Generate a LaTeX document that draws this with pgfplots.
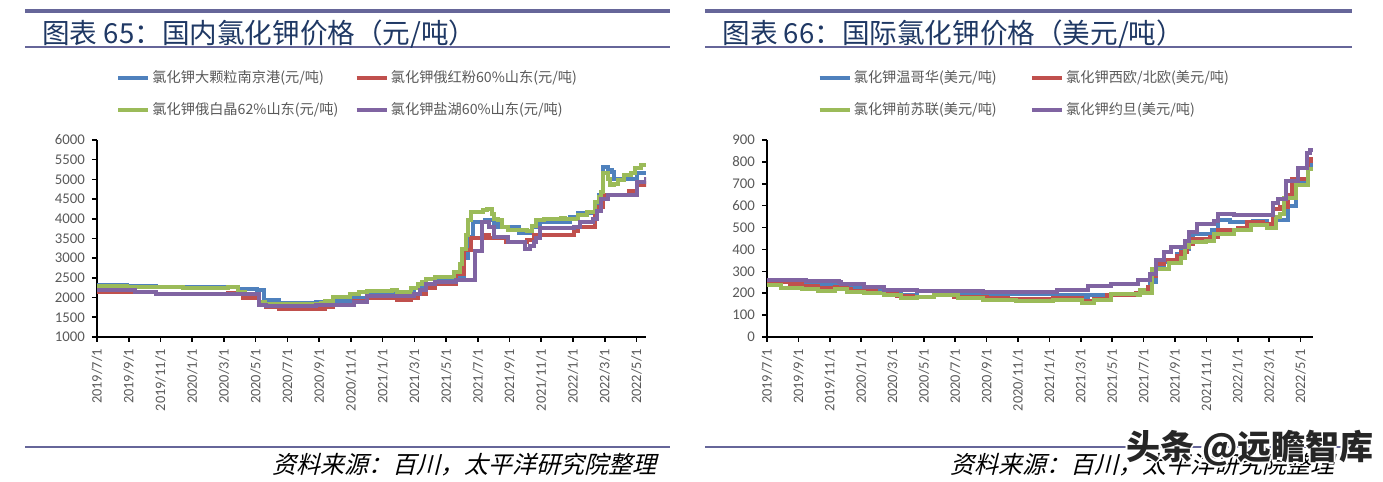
\documentclass[border=0pt]{standalone}
\usepackage{fontspec}
\setmainfont{Carlito}
\newfontfamily\cjk{Noto Sans CJK SC}
\newfontfamily\cjkit{Noto Sans CJK SC}[FakeSlant=0.25]
\usepackage{pgfplots}
\pgfplotsset{compat=1.18}

\definecolor{s1}{RGB}{79,129,189}
\definecolor{s2}{RGB}{192,80,77}
\definecolor{s3}{RGB}{155,187,89}
\definecolor{s4}{RGB}{128,100,162}
\definecolor{barc}{RGB}{102,102,153}
\definecolor{ttl}{RGB}{31,56,100}
\definecolor{tk}{RGB}{89,89,89}

\pgfplotsset{
  potash/.style={
    scale only axis, height=98.5pt,
    xmin=0,
    axis x line=bottom, axis y line=left,
    axis line style={-, line width=1pt},
    tick align=outside, major tick length=2.5pt,
    tick style={black, line width=0.8pt},
    xtick={0,2,...,34},
    xticklabels={2019/7/1,2019/9/1,2019/11/1,2020/1/1,2020/3/1,2020/5/1,2020/7/1,2020/9/1,2020/11/1,2021/1/1,2021/3/1,2021/5/1,2021/7/1,2021/9/1,2021/11/1,2022/1/1,2022/3/1,2022/5/1},
    x tick label style={rotate=90, anchor=east, font=\fontsize{7.2}{8}\selectfont, text=tk},
    y tick label style={font=\fontsize{7.4}{8}\selectfont, text=tk},
    /pgf/number format/assume math mode=true,
    /pgf/number format/set thousands separator={},
    legend columns=2, legend cell align=left,
    legend style={draw=none, fill=none, font=\cjk\fontsize{7.1}{8.5}\selectfont, text=tk,
      row sep=6.5pt, inner sep=0pt, nodes={inner sep=1pt}},
    legend image code/.code={\draw[#1, line width=2.2pt] (0pt,0pt) -- (15pt,0pt);},
    every axis plot/.append style={const plot, no marks, line width=2pt},
  }
}

\begin{document}
\begin{tikzpicture}
\useasboundingbox (0,0) rectangle (691.5pt,241pt);

% frames and titles
\fill[barc] (12.5pt,234.5pt) rectangle (335pt,236.3pt);
\fill[barc] (352.5pt,234.5pt) rectangle (676pt,236.3pt);
\draw[barc, line width=1pt] (12.5pt,217.5pt) -- (335pt,217.5pt);
\draw[barc, line width=1pt] (352.5pt,217.5pt) -- (676pt,217.5pt);
\draw[barc, line width=1pt] (12.5pt,17.5pt) -- (335pt,17.5pt);
\draw[barc, line width=1pt] (352.5pt,17.5pt) -- (676pt,17.5pt);
\node[anchor=west, inner sep=0pt, text=ttl, font=\cjk\fontsize{13.8}{15}\selectfont] at (21pt,224pt) {图表 65：国内氯化钾价格（元/吨）};
\node[anchor=west, inner sep=0pt, text=ttl, font=\cjk\fontsize{13.8}{15}\selectfont] at (361pt,224pt) {图表 66：国际氯化钾价格（美元/吨）};
\node[anchor=east, inner sep=0pt, font=\cjkit\fontsize{12}{13}\selectfont] at (328.5pt,8.5pt) {资料来源：百川，太平洋研究院整理};
\node[anchor=east, inner sep=0pt, font=\cjkit\fontsize{12}{13}\selectfont] at (667.5pt,8.5pt) {资料来源：百川，太平洋研究院整理};

% left chart
\begin{axis}[potash, name=left, at={(48.5pt,72.5pt)}, anchor=south west,
  width=274.5pt, xmax=34.6,
  ymin=1000, ymax=6000, ytick={1000,1500,...,6000},
  legend style={at={(axis description cs:0.034,1.365)}, anchor=north west,
    /tikz/every even column/.append style={column sep=7pt}}]
\addplot[s1] table {
0 2320
1.86 2290
3.72 2260
8.24 2260
8.91 2210
10.11 2200
10.51 1930
11.44 1870
13.83 1900
14.89 1920
15.96 2000
17.02 2060
17.82 2100
19.68 2100
19.95 2250
20.48 2340
21.28 2410
22.61 2500
23.14 3000
23.40 3530
23.67 3920
24.47 3960
25.00 3900
25.27 3800
26.33 3780
26.60 3640
27.26 3640
27.39 3800
27.93 3920
29.79 4040
30.32 4150
31.38 4400
31.65 4600
31.86 5320
32.18 5230
32.45 5200
32.58 5020
32.71 5000
33.78 5000
34.04 5150
34.6 5150
};
\addlegendentry{氯化钾大颗粒南京港(元/吨)}
\addplot[s2] table {
0 2150
3.72 2100
8.24 2120
9.18 2000
10.24 1830
10.64 1750
11.44 1710
14.36 1750
14.89 1810
16.22 1920
17.02 2000
18.88 1950
19.81 2000
20.21 2100
20.74 2250
21.28 2350
22.61 2600
23.14 3200
23.54 3500
24.47 3580
24.73 3510
25.80 3420
27.13 3450
27.53 3600
29.52 3600
30.05 3700
30.32 3800
31.38 4200
31.65 4300
31.91 4600
33.51 4700
34.04 4850
34.57 4900
34.6 4900
};
\addlegendentry{氯化钾俄红粉60\%山东(元/吨)}
\addplot[s3] table {
0 2300
1.86 2270
5.45 2250
8.24 2270
8.90 2150
9.30 2100
10.24 1880
10.60 1850
14.10 1870
14.36 1920
14.89 2020
15.96 2100
16.50 2140
17.02 2170
18.62 2190
18.88 2150
19.81 2250
20.20 2350
20.48 2400
20.74 2470
21.28 2530
22.47 2640
22.87 2850
23.01 3240
23.27 3580
23.40 3960
23.54 4170
24.34 4230
24.60 4250
24.87 4130
25.00 4000
25.27 3980
25.53 3790
25.93 3720
27.13 3700
27.39 3810
27.66 3960
28.19 4000
29.26 4020
29.52 3990
30.32 4100
30.85 4170
31.38 4430
31.65 4550
31.78 4680
31.91 5150
32.18 5020
32.31 4850
32.58 4890
32.85 4980
33.24 5100
33.64 5150
33.91 5280
34.31 5360
34.6 5360
};
\addlegendentry{氯化钾俄白晶62\%山东(元/吨)}
\addplot[s4] table {
0 2200
2.39 2150
3.72 2100
5.32 2080
10.24 1800
10.64 1780
13.83 1800
16.22 1900
17.02 2050
19.95 2100
20.35 2200
20.74 2350
21.28 2390
22.61 2450
23.80 3190
24.26 3920
24.73 3800
25.00 3530
25.93 3410
26.99 3240
27.26 3300
27.53 3400
27.66 3500
27.93 3760
30.05 3800
30.45 3910
31.25 4000
31.52 4200
31.78 4500
32.18 4600
34.04 4930
34.57 5000
34.6 5000
};
\addlegendentry{氯化钾盐湖60\%山东(元/吨)}
\end{axis}

% right chart
\begin{axis}[potash, name=right, at={(383.5pt,72.5pt)}, anchor=south west,
  width=273pt, xmax=34.8,
  ymin=0, ymax=900, ytick={0,100,...,900},
  legend style={at={(axis description cs:0.0916,1.365)}, anchor=north west,
    /tikz/every even column/.append style={column sep=15.5pt}}]
\addplot[s1] table {
0 252
1.44 243
4.86 222
6.96 210
8.53 192
9.58 182
10.63 192
12.2 197
15.62 195
18.24 191
20.21 180
20.47 191
21.92 192
23.49 200
24.41 250
24.8 320
25.33 342
26.12 380
26.38 400
26.9 449
27.17 472
28.35 490
28.74 533
29.53 525
30.97 530
31.89 505
32.41 533
33.2 600
33.73 710
34.5 786
34.8 786
};
\addlegendentry{氯化钾温哥华(美元/吨)}
\addplot[s2] table {
0 250
1.44 240
2.23 232
3.28 222
4.33 230
5.12 220
5.38 208
6.96 200
8.27 188
9.32 184
10.63 190
11.94 185
14.04 180
15.35 175
18.24 180
20.08 165
20.87 175
21.65 193
23.49 200
24.28 230
24.54 280
24.8 334
25.33 352
26.12 372
26.38 390
26.77 426
27.17 446
28.22 455
28.74 487
30.05 500
30.58 525
31.63 515
32.28 587
32.68 592
33.2 650
33.46 724
34.5 812
34.65 805
34.8 805
};
\addlegendentry{氯化钾西欧/北欧(美元/吨)}
\addplot[s3] table {
0 237
0.92 226
2.23 221
3.28 211
4.33 220
5.12 205
6.17 200
7.48 190
8.53 180
9.58 185
10.63 190
12.2 180
13.78 170
15.88 163
18.24 170
20.08 155
20.87 170
21.92 195
23.62 190
23.75 215
24.02 200
24.54 311
25.59 340
26.38 360
26.64 410
26.9 433
27.95 440
28.48 472
29.79 490
30.84 510
31.89 500
32.41 548
32.68 560
32.94 637
33.73 694
34.5 766
34.8 766
};
\addlegendentry{氯化钾前苏联(美元/吨)}
\addplot[s4] table {
0 262
2.49 258
4.59 252
4.72 243
6.17 228
7.48 214
9.58 210
13.78 207
18.5 216
20.47 234
21.92 242
23.62 260
24.41 288
24.8 352
25.33 387
25.72 410
26.64 440
26.9 479
27.43 518
28.48 530
28.74 560
29.79 556
32.28 612
32.55 632
33.07 712
33.86 773
34.4 840
34.6 854
34.8 854
};
\addlegendentry{氯化钾约旦(美元/吨)}
\end{axis}

% watermark
\foreach \dx/\dy in {-1.2/0,1.2/0,0/-1.2,0/1.2}{
  \node[inner sep=0pt, text=white, font=\cjk\bfseries\fontsize{17}{18}\selectfont, xshift=\dx pt, yshift=\dy pt] at (625pt,17pt) {头条 @远瞻智库};
}
\node[inner sep=0pt, text=black!85, font=\cjk\bfseries\fontsize{17}{18}\selectfont] at (625pt,17pt) {头条 @远瞻智库};
\end{tikzpicture}
\end{document}
